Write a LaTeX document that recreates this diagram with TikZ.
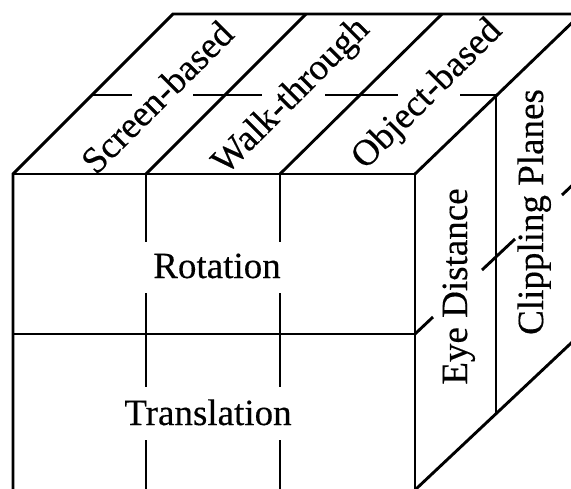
\documentclass[tikz,border=0pt]{standalone}
\usepackage{fontspec}
\setmainfont{Liberation Serif}
\newfontfamily\labelfont[FakeBold=0.35]{Liberation Serif}
\begin{document}
\begin{tikzpicture}[x=1pt,y=-1pt,
  edge/.style={line width=2.9pt,line join=miter},
  lbl/.style={font=\labelfont\fontsize{37}{40}\selectfont,inner sep=0pt}]
\useasboundingbox (0,0) rectangle (571,488);
\begin{scope}
\clip (0,0) rectangle (571,488);
% outline of the visible faces
\draw[edge] (13,500) -- (13,174) -- (173,14) -- (600,14);
\draw[edge] (13,174) -- (415,174) -- (415,500);
\draw[edge] (415,174) -- (497,95) -- (580,15);
% top face: column dividers
\draw[edge] (146,174) -- (306,14);
\draw[edge] (280,174) -- (442,14);
% top face: broken middle line
\draw[edge] (93,95) -- (132,95);
\draw[edge] (193,95) -- (262,95);
\draw[edge] (325,95) -- (398,95);
\draw[edge] (460,95) -- (497,95);
% front face: row divider and broken column dividers
\draw[edge] (13,334) -- (415,334);
\foreach \cx in {146,280}{
  \draw[edge] (\cx,174) -- (\cx,242);
  \draw[edge] (\cx,293) -- (\cx,387);
  \draw[edge] (\cx,440) -- (\cx,500);
}
% right face: depth divider and row lines
\draw[edge] (496,95) -- (496,414);
\draw[edge] (415,334) -- (433,317);
\draw[edge] (482,270) -- (515,239);
\draw[edge] (562,195) -- (580,178);
\draw[edge] (416,489) -- (585,330);
\end{scope}
% labels
\node[lbl,rotate=45] (screen) at (157,97) {Screen-based};
\node[lbl,rotate=45] (walk) at (292,97) {Walk-through};
\node[lbl,rotate=45] (object) at (428,95) {Object-based};
\node[lbl,anchor=base] (rot) at (217,278) {Rotation};
\node[lbl,anchor=base] (trans) at (208,425) {Translation};
\node[lbl,rotate=90,anchor=base] (eye) at (467,286.5) {Eye Distance};
\node[lbl,rotate=90,anchor=base] (clip) at (543,212) {Clippling Planes};
\end{tikzpicture}
\end{document}
